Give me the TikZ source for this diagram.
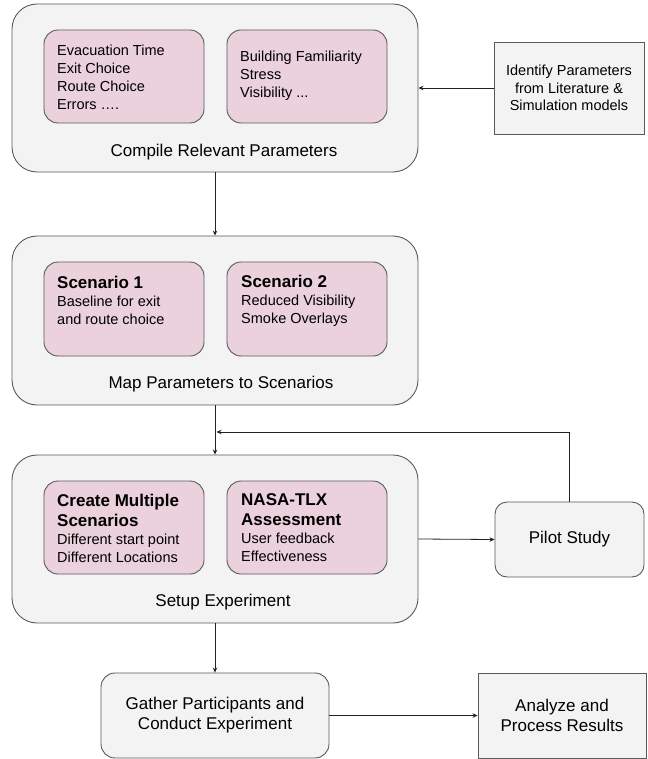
\documentclass[tikz,border=0pt]{standalone}
\usepackage{fontspec}
\setmainfont{Liberation Sans}
\usetikzlibrary{arrows.meta,calc}
\definecolor{boxgray}{HTML}{F3F3F3}
\definecolor{boxpink}{HTML}{EAD1DC}
\definecolor{edgegray}{HTML}{595959}
\definecolor{linedark}{HTML}{222222}
\begin{document}
\begin{tikzpicture}[x=1pt,y=-1pt,
  outerbox/.style={draw=edgegray, fill=boxgray, rounded corners=25pt, line width=0.9pt,
    inner sep=0pt, minimum width=406pt},
  pinkbox/.style={draw=edgegray, fill=boxpink, rounded corners=14pt, line width=0.9pt,
    inner sep=0pt, minimum width=160pt, minimum height=93pt},
  graybox/.style={draw=edgegray, fill=boxgray, line width=0.9pt, inner sep=0pt, align=center},
  intext/.style={align=left, anchor=west, inner sep=0pt, text=black,
    font=\fontsize{14.5}{18}\selectfont},
  bigtext/.style={inner sep=0pt, text=black, font=\fontsize{17}{20}\selectfont},
  arr/.style={draw=linedark, line width=0.8pt, -{Stealth[length=5pt,width=4.5pt]}}
]
\useasboundingbox (0,0) rectangle (647,759);

% ---- Box 1
\node[outerbox, minimum height=168pt] (box1) at (215,88) {};
\node[pinkbox] (p1a) at (124,76.5) {};
\node[pinkbox] (p1b) at (307,76.5) {};
\node[intext] (t1a) at (57,77) {Evacuation Time\\Exit Choice\\Route Choice\\Errors ….};
\node[intext] (t1b) at (240,76) {Building Familiarity\\Stress\\Visibility ...};
\node[bigtext] (l1) at (224,152) {Compile Relevant Parameters};

% ---- Identify
\node[graybox, minimum width=150pt, minimum height=92pt,
  font=\fontsize{14.5}{17.5}\selectfont] (idf) at (569,88)
  {Identify Parameters\\from Literature \&\\Simulation models};

% ---- Box 2
\node[outerbox, minimum height=169pt] (box2) at (215,320.5) {};
\node[pinkbox, minimum height=94pt] (p2a) at (124,309) {};
\node[pinkbox, minimum height=94pt] (p2b) at (307,309) {};
\node[intext] (t2a) at (57,300.5) {{\bfseries\fontsize{17}{20}\selectfont Scenario 1}\\Baseline for exit\\and route choice};
\node[intext] (t2b) at (241,300.5) {{\bfseries\fontsize{17}{20}\selectfont Scenario 2}\\Reduced Visibility\\Smoke Overlays};
\node[bigtext] (l2) at (221,384) {Map Parameters to Scenarios};

% ---- Box 3
\node[outerbox, minimum height=168pt] (box3) at (215,539) {};
\node[pinkbox] (p3a) at (124,527.5) {};
\node[pinkbox] (p3b) at (307,527.5) {};
\node[intext] (t3a) at (57,528.5) {{\bfseries\fontsize{17}{20}\selectfont Create Multiple}\\[2pt]{\bfseries\fontsize{17}{20}\selectfont Scenarios}\\Different start point\\Different Locations};
\node[intext] (t3b) at (241,527.5) {{\bfseries\fontsize{17}{20}\selectfont NASA-TLX}\\[2pt]{\bfseries\fontsize{17}{20}\selectfont Assessment}\\User feedback\\Effectiveness};
\node[bigtext] (l3) at (223,602) {Setup Experiment};

% ---- Pilot
\node[graybox, rounded corners=12pt, minimum width=149pt, minimum height=75pt,
  font=\fontsize{17}{20}\selectfont] (pilot) at (569.5,539.5) {Pilot Study};

% ---- Gather
\node[graybox, rounded corners=14pt, minimum width=228pt, minimum height=85pt,
  font=\fontsize{17}{20}\selectfont] (gather) at (215,715.5)
  {Gather Participants and\\Conduct Experiment};

% ---- Analyze
\node[graybox, minimum width=168pt, minimum height=85pt,
  font=\fontsize{17}{19.5}\selectfont] (anl) at (562,715.5)
  {Analyze and\\Process Results};

% ---- Connectors
\draw[arr] (idf.west) -- (idf.west -| box1.east);
\draw[arr] (box1.south) -- (box2.north);
\draw[arr] (box2.south) -- (box3.north);
\coordinate (fb) at (216.5,432);
\draw[arr] (pilot.north) |- (fb);
\draw[arr] (box3.east) -- (pilot.west);
\draw[arr] (box3.south) -- (gather.north);
\draw[arr] (gather.east) -- (anl.west);
\end{tikzpicture}
\end{document}
